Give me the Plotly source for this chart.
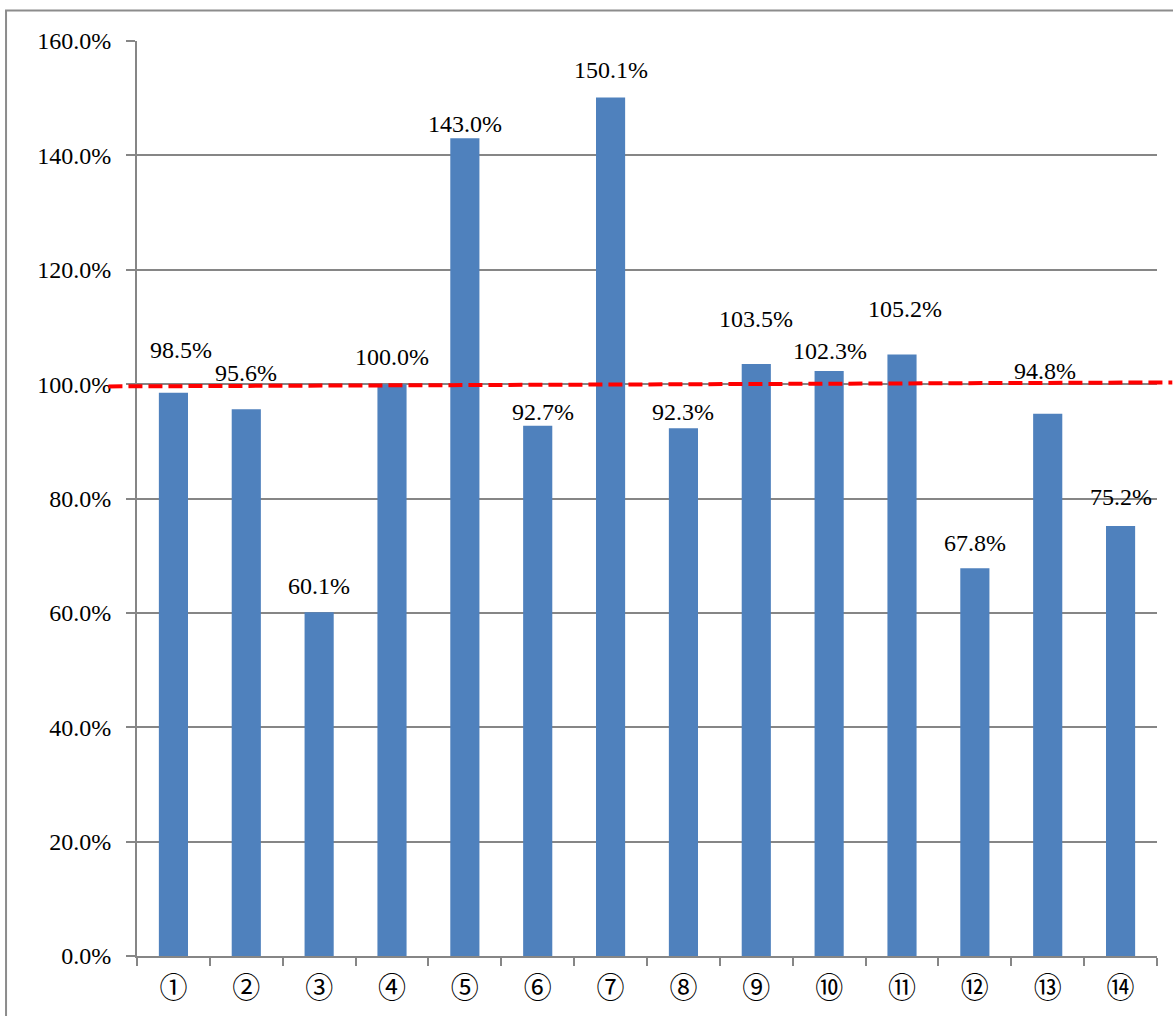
import plotly.graph_objects as go

categories = ["①", "②", "③", "④", "⑤", "⑥", "⑦", "⑧", "⑨", "⑩", "⑪", "⑫", "⑬", "⑭"]
values = [0.985, 0.956, 0.601, 1.000, 1.430, 0.927, 1.501, 0.923, 1.035, 1.023, 1.052, 0.678, 0.948, 0.752]
labels = ["98.5%", "95.6%", "60.1%", "100.0%", "143.0%", "92.7%", "150.1%", "92.3%",
          "103.5%", "102.3%", "105.2%", "67.8%", "94.8%", "75.2%"]
# manual label offsets (pixels) as placed in the original chart
label_dy = [43, 36, 26, 27, 14, 14, 28, 16, 45, 20, 45, 25, 43, 29]
label_dx = [8, 0, 0, 0, 0, 5, 0, 0, 0, 1, 3, 0, -3, 0]
target_level = [0.996, 1.003]

SERIF = "Liberation Serif"
GRID = "#868686"

fig = go.Figure()
fig.add_trace(go.Bar(
    x=categories, y=values,
    marker=dict(color="#4F81BD", line=dict(width=0)),
    hoverinfo="skip",
))

for c, v, t, dy, dx in zip(categories, values, labels, label_dy, label_dx):
    fig.add_annotation(x=c, y=v, xref="x", yref="y", text=t, showarrow=False,
                       yanchor="middle", xanchor="center", yshift=dy, xshift=dx,
                       font=dict(family=SERIF, size=24, color="black"))

# red dashed target line (slightly tilted, extends beyond plot)
fig.add_shape(type="line", xref="paper", yref="y",
              x0=-0.028, x1=1.015, y0=target_level[0], y1=target_level[1],
              line=dict(color="#FF0000", width=4, dash="14px,6px"), layer="above")

# outer chart border
fig.add_shape(type="rect", xref="paper", yref="paper",
              x0=-0.1284, x1=1.05, y0=-0.2, y1=1.0333,
              line=dict(color="#8C8C8C", width=2), fillcolor="rgba(0,0,0,0)", layer="below")

fig.update_layout(
    width=1173, height=1016,
    margin=dict(l=137, r=16, t=41, b=60),
    paper_bgcolor="white", plot_bgcolor="white",
    bargap=0.6, showlegend=False,
    font=dict(family=SERIF),
    xaxis=dict(
        type="category", range=[-0.5, 13.5], automargin=False,
        showline=True, linecolor=GRID, linewidth=2,
        ticks="outside", tickson="boundaries", ticklen=8, tickcolor=GRID, tickwidth=2,
        showgrid=False,
        tickfont=dict(family="Noto Sans CJK JP", size=28, color="black"),
        ticklabelstandoff=6,
    ),
    yaxis=dict(
        range=[0, 1.6], dtick=0.2, tickformat=".1%", automargin=False,
        showline=True, linecolor=GRID, linewidth=2,
        ticks="outside", ticklen=9, tickcolor=GRID, tickwidth=2,
        showgrid=True, gridcolor=GRID, gridwidth=1.5,
        zeroline=False,
        tickfont=dict(family=SERIF, size=24, color="black"),
        ticklabelstandoff=10,
    ),
)

fig.write_html("out.html")
